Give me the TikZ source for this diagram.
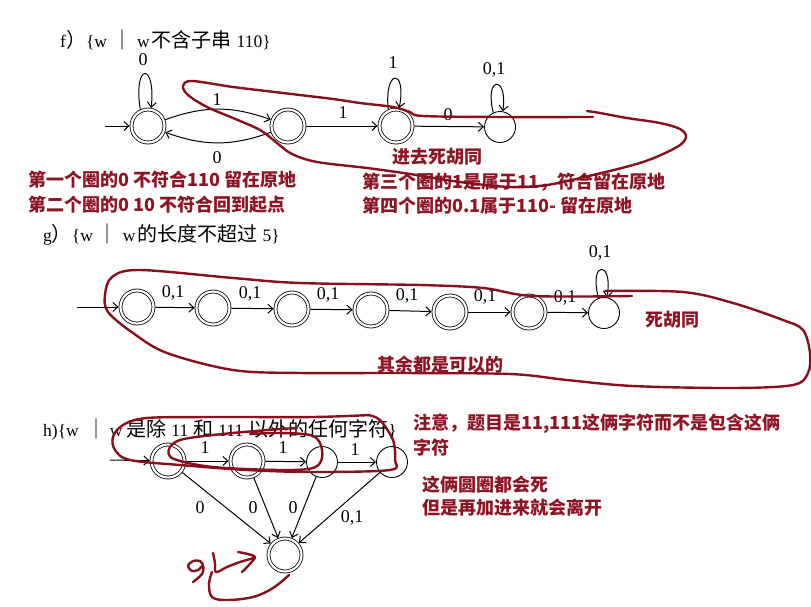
\documentclass[tikz,border=0pt]{standalone}
\usepackage{fontspec}
\setmainfont{Liberation Serif}
\newfontfamily\cjk{Noto Sans CJK SC}
\usetikzlibrary{arrows.meta}
\definecolor{ink}{RGB}{140,20,35}
\definecolor{pencol}{RGB}{135,15,30}
\newcommand\zhc[1]{{\cjk\fontsize{20}{20}\selectfont #1}}
\newcommand\tsp{\hspace{5pt}}
\begin{document}
\begin{tikzpicture}[x=1pt,y=-1pt,
  >={Straight Barb[length=5pt,width=9pt]},
  acc/.style={circle,draw,double,line width=0.8pt,double distance=2.2pt,minimum size=33pt,inner sep=0pt,outer sep=1.9pt},
  st/.style={circle,draw,line width=0.9pt,minimum size=31pt,inner sep=0pt},
  edge/.style={->,line width=1pt},
  lbl/.style={font=\fontsize{18}{18}\selectfont,inner sep=0pt},
  ttl/.style={anchor=west,inner sep=0pt,font=\fontsize{17.5}{19}\selectfont},
  note/.style={anchor=west,inner sep=0pt,text=ink,font=\cjk\bfseries\fontsize{18}{22}\selectfont},
  pen/.style={draw=pencol,line width=2.4pt,line cap=round,line join=round}
]
\useasboundingbox (0,0) rectangle (811,606);

% ---------------- f ----------------
\node[ttl] (tf) at (60,40) {f\zhc{）}\{w\tsp\zhc{｜}\tsp w\hspace{2pt}\zhc{不含子串}\tsp 110\}};
\node[acc] (f0) at (148,126) {};
\node[acc] (f1) at (288,126) {};
\node[acc] (f2) at (396,126) {};
\node[st]  (f3) at (500,127) {};
\coordinate (fs) at (105,126);
\draw[edge] (fs) -- (f0);
\draw[edge] (f0) to[bend left=20] (f1);
\draw[edge] (f1) to[bend left=20] (f0);
\draw[edge] (f1) -- (f2);
\draw[edge] (f2) -- (f3);
\draw[edge] (f0.115) .. controls (133,62) and (156,62) .. (f0.80);
\draw[edge] (f2.115) .. controls (384,68) and (407,68) .. (f2.80);
\draw[edge] (f3.115) .. controls (484,75) and (508,75) .. (f3.80);
\node[lbl] (lf0) at (143,60) {0};
\node[lbl] (lf01) at (217,100) {1};
\node[lbl] (lf10) at (217,158) {0};
\node[lbl] (lf12) at (343,113) {1};
\node[lbl] (lf2) at (393,63) {1};
\node[lbl] (lf23) at (448,115) {0};
\node[lbl] (lf3) at (494,70) {0,1};

\node[note,anchor=center] (n1) at (437,157) {进去死胡同};
\node[note] (n2) at (28,180) {第一个圈的0 不符合110 留在原地};
\node[note] (n3) at (28,205) {第二个圈的0 10 不符合回到起点};
\node[note] (n4) at (362,182) {第三个圈的1是属于11，符合留在原地};
\node[note] (n5) at (362,206) {第四个圈的0.1属于110- 留在原地};

% ---------------- g ----------------
\node[ttl] (tg) at (43,235) {g\zhc{）}\{w\tsp\zhc{｜}\tsp w\hspace{2pt}\zhc{的长度不超过}\tsp 5\}};
\node[acc] (g0) at (137,307) {};
\node[acc] (g1) at (213,308) {};
\node[acc] (g2) at (292,309) {};
\node[acc] (g3) at (371,310) {};
\node[acc] (g4) at (450,312) {};
\node[acc] (g5) at (529,312) {};
\node[st]  (g6) at (604,313) {};
\coordinate (gs) at (77,307);
\draw[edge] (gs) -- (g0);
\draw[edge] (g0) -- (g1);
\draw[edge] (g1) -- (g2);
\draw[edge] (g2) -- (g3);
\draw[edge] (g3) -- (g4);
\draw[edge] (g4) -- (g5);
\draw[edge] (g5) -- (g6);
\draw[edge] (g6.110) .. controls (588,260) and (614,260) .. (g6.80);
\node[lbl] (lg01) at (173,293) {0,1};
\node[lbl] (lg12) at (250,294) {0,1};
\node[lbl] (lg23) at (328,295) {0,1};
\node[lbl] (lg34) at (407,296) {0,1};
\node[lbl] (lg45) at (485,297) {0,1};
\node[lbl] (lg56) at (565,298) {0,1};
\node[lbl] (lg6) at (600,253) {0,1};
\node[note] (n6) at (645,320) {死胡同};
\node[note] (n7) at (377,365) {其余都是可以的};

% ---------------- h ----------------
\node[ttl] (th) at (43,430) {h)\{w\hspace{8pt}\zhc{｜}\hspace{3pt}w\hspace{4pt}\zhc{是除}\tsp 11\tsp\zhc{和}\tsp 111\tsp\zhc{以外的任何字符}\}};
\node[acc] (h0) at (168,461) {};
\node[acc] (h1) at (247,461) {};
\node[st]  (h2) at (322,462) {};
\node[st]  (h3) at (392,462) {};
\node[acc] (h4) at (285,555) {};
\coordinate (hs) at (110,460);
\draw[edge] (hs) -- (h0);
\draw[edge] (h0) -- (h1);
\draw[edge] (h1) -- (h2);
\draw[edge] (h2) -- (h3);
\draw[edge] (h0) -- (h4);
\draw[edge] (h1) -- (h4);
\draw[edge] (h2) -- (h4);
\draw[edge] (h3) -- (h4);
\node[lbl] (lh01) at (205,448) {1};
\node[lbl] (lh12) at (283,448) {1};
\node[lbl] (lh23) at (355,450) {1};
\node[lbl] (lh04) at (200,508) {0};
\node[lbl] (lh14) at (253,508) {0};
\node[lbl] (lh24) at (293,508) {0};
\node[lbl] (lh34) at (352,518) {0,1};

\node[note] (n8) at (413,424) {注意，题目是11,111这俩字符而不是包含这俩};
\node[note] (n9) at (413,448) {字符};
\node[note] (n10) at (422,485) {这俩圆圈都会死};
\node[note] (n11) at (422,508) {但是再加进来就会离开};

% ---------------- handwritten strokes ----------------
\draw[pen] plot[smooth,tension=0.55] coordinates {(593,117) (500,117) (423,116) (410,112) (393,107) (360,103) (333,99) (283,93) (233,87) (192,81) (183,86) (188,95) (207,107) (233,118) (260,130) (277,143) (292,154) (317,162) (367,168) (410,174) (460,182) (510,187) (547,185) (593,175) (643,162) (677,147) (686,137) (680,129) (660,123) (627,118) (600,113) (587,111)};

\draw[pen] plot[smooth,tension=0.55] coordinates {(632,296) (533,296) (483,288) (420,285) (300,283) (233,278) (140,270) (112,277) (105,295) (108,312) (133,333) (167,353) (233,370) (300,373) (400,373) (510,374) (567,380) (633,386) (733,388) (793,385) (808,373) (810,353) (803,330) (783,320) (733,303) (683,292) (605,291)};

\draw[pen] plot[smooth,tension=0.55] coordinates {(370,415) (313,417) (213,417) (147,418) (123,425) (113,437) (115,450) (130,460) (180,465) (247,470) (313,472) (390,470) (395,460) (393,440) (380,420) (368,415)};
\draw[pen] plot[smooth,tension=0.55] coordinates {(297,428) (267,430) (213,435) (180,440) (169,449) (174,459) (213,467) (280,470) (313,468) (322,458) (320,443) (310,435) (280,433) (250,434)};

\draw[pen] plot[smooth,tension=0.6] coordinates {(203,565) (200,561) (193,561) (188,566) (192,571) (198,570) (203,566) (202,574) (193,582)};
\draw[pen] plot[smooth,tension=0.6] coordinates {(213,553) (215,563) (216,572) (227,567) (240,562) (254,558)};
\draw[pen] plot[smooth,tension=0.4] coordinates {(238,552) (255,557) (242,572)};
\draw[pen] plot[smooth,tension=0.6] coordinates {(212,572) (209,584) (212,597) (227,600) (253,597) (273,588) (289,575)};
\end{tikzpicture}
\end{document}
